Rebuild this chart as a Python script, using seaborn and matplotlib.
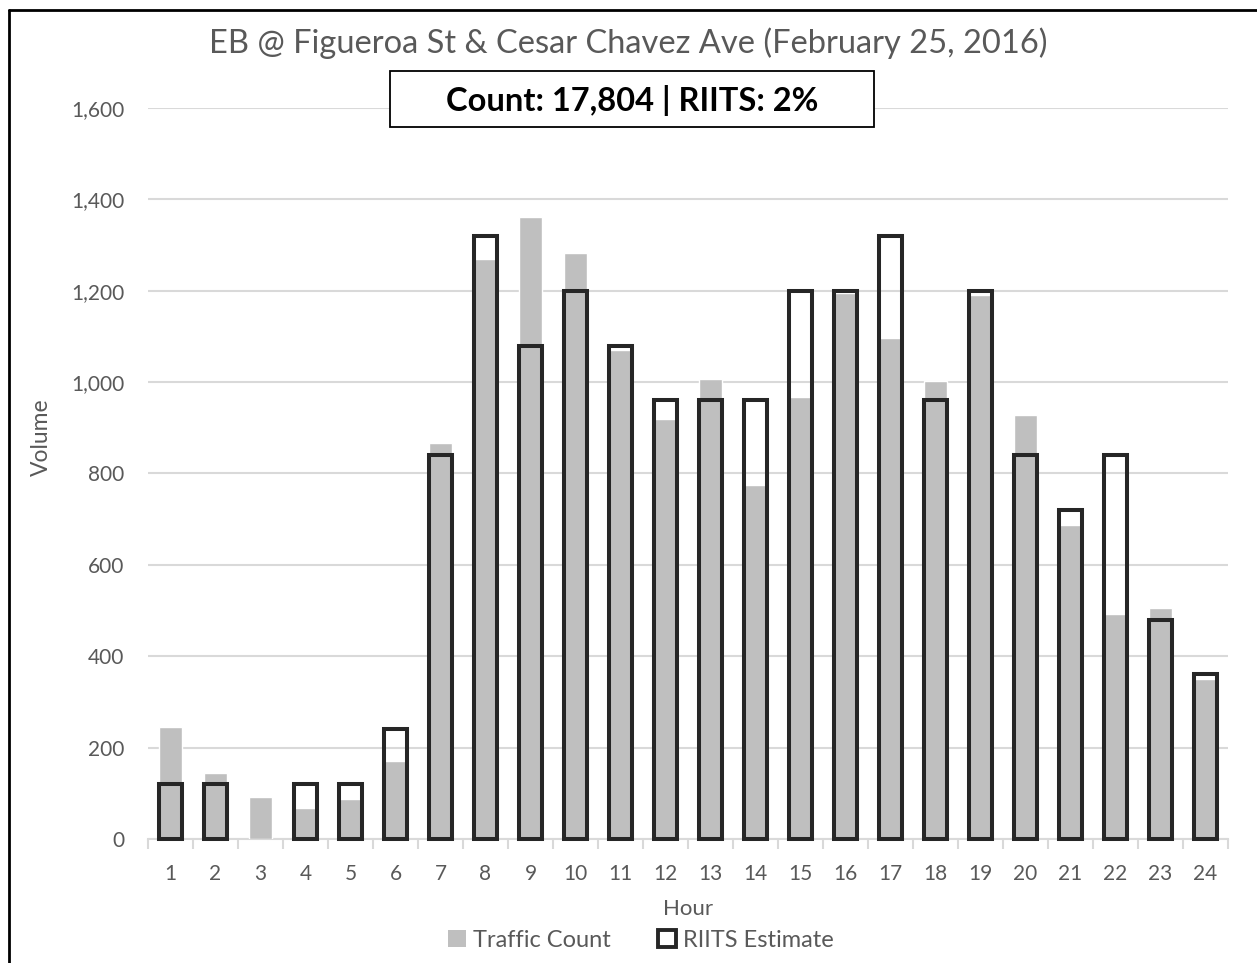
import matplotlib.pyplot as plt
import seaborn as sns
import pandas as pd
import numpy as np
from matplotlib.lines import Line2D
from matplotlib.patches import Patch, Rectangle

# Data
hours = [str(h) for h in range(1, 25)]
traffic_count = [245, 144, 92, 68, 88, 171, 866, 1269, 1361, 1282, 1070, 919,
                 1006, 775, 967, 1195, 1096, 1002, 1190, 928, 687, 492, 505, 350]
riits_estimate = [120, 120, 0, 120, 120, 240, 840, 1320, 1080, 1200, 1080, 960,
                  960, 960, 1200, 1200, 1320, 960, 1200, 840, 720, 840, 480, 360]
y_ticks = [0, 200, 400, 600, 800, 1000, 1200, 1400, 1600]

df = pd.DataFrame({'Hour': hours, 'Traffic Count': traffic_count, 'RIITS Estimate': riits_estimate})

sns.set_style('white')
plt.rcParams['font.family'] = ['Lato', 'DejaVu Sans']

text_grey = '#595959'
bar_grey = '#BFBFBF'
outline = '#262626'
W, H = 1257, 963

fig = plt.figure(figsize=(12.57, 9.63), dpi=100)
ax = fig.add_axes([0.1177, 0.1288, 0.8593, 0.7591])

sns.barplot(data=df, x='Hour', y='Traffic Count', color=bar_grey, width=0.51,
            saturation=1, ax=ax, zorder=2)
n_grey = len(ax.patches)
sns.barplot(data=df, x='Hour', y='RIITS Estimate', color=outline, fill=False,
            width=0.51, linewidth=2.9, ax=ax, zorder=3)
for p in ax.patches[n_grey:]:
    p.set_edgecolor(outline)
    p.set_facecolor('none')
    p.set_clip_on(False)
    if p.get_height() == 0:
        p.set_visible(False)

ax.set_ylim(0, 1600)
ax.set_xlim(-0.5, 23.5)
ax.set_yticks(y_ticks)
ax.set_yticklabels([f'{v:,}' for v in y_ticks])
ax.yaxis.grid(True, color='#D9D9D9', linewidth=1.5, zorder=0)
ax.set_axisbelow(True)
for s in ['top', 'right', 'left']:
    ax.spines[s].set_visible(False)
ax.spines['bottom'].set_color('#D9D9D9')
ax.spines['bottom'].set_linewidth(1.5)
ax.spines['bottom'].set_zorder(1)

ax.set_xticks(np.arange(-0.5, 24, 1), minor=True)
ax.tick_params(axis='x', which='minor', length=7, color='#D9D9D9', width=1.5, bottom=True)
ax.tick_params(axis='x', which='major', length=0, pad=18, labelsize=15, labelcolor=text_grey)
ax.tick_params(axis='y', length=0, pad=17, labelsize=15, labelcolor=text_grey)

ax.set_xlabel('Hour', fontsize=16, color=text_grey, labelpad=11)
ax.set_ylabel('Volume', fontsize=16.5, color=text_grey)
ax.yaxis.set_label_coords(-0.089, 0.55)

fig.text(0.5, 1 - 43 / H, 'EB @ Figueroa St & Cesar Chavez Ave (February 25, 2016)',
         ha='center', va='center', fontsize=23.5, color=text_grey)

# boxed summary
fig.add_artist(Rectangle((390 / W, 1 - 127 / H), 484 / W, 56 / H, transform=fig.transFigure,
                         facecolor='white', edgecolor='black', linewidth=1.3, zorder=5))
fig.text(632 / W, 1 - 100 / H, 'Count: 17,804 | RIITS: 2%', ha='center', va='center',
         fontsize=23.5, fontweight='bold', color='black', zorder=6)

handles = [Patch(facecolor=bar_grey, edgecolor='none'),
           Patch(facecolor='white', edgecolor=outline, linewidth=2.8)]
fig.legend(handles, ['Traffic Count', 'RIITS Estimate'], loc='center',
           bbox_to_anchor=(641 / W, 1 - 940 / H), ncol=2, frameon=False, fontsize=17,
           handlelength=0.75, handleheight=0.75, handletextpad=0.3, columnspacing=2.0,
           labelcolor=text_grey)

# partial frame around the figure
fig.add_artist(Line2D([9 / W, 9 / W], [0, 1 - 10 / H], color='black', linewidth=2, transform=fig.transFigure))
fig.add_artist(Line2D([9 / W, 1], [1 - 10 / H, 1 - 10 / H], color='black', linewidth=2, transform=fig.transFigure))

fig.savefig('out.png', dpi=100)
